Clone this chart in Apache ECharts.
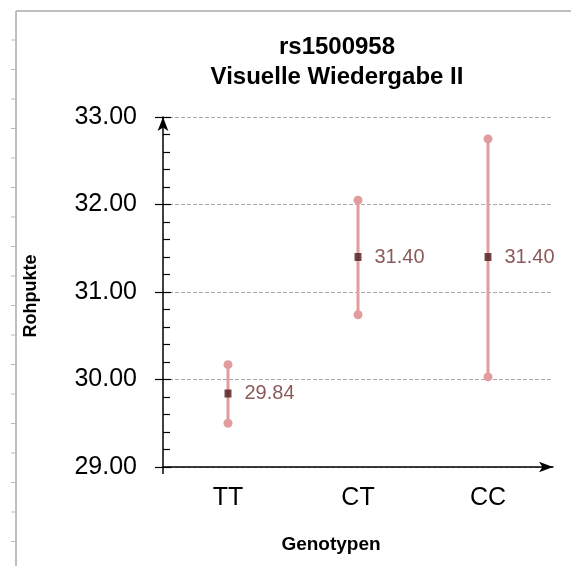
<!DOCTYPE html>
<html><head><meta charset="utf-8">
<script src="https://cdn.jsdelivr.net/npm/echarts@6/dist/echarts.min.js"></script>
<style>html,body{margin:0;padding:0;background:#fff}#c{width:571px;height:566px}</style>
</head><body><div id="c"></div>
<script>
var categories = ['TT', 'CT', 'CC'];
var means = [29.84, 31.40, 31.40];
var lows = [29.50, 30.74, 30.03];
var highs = [30.17, 32.05, 32.75];
var yTicks = [29, 30, 31, 32, 33];
var titleLines = ['rs1500958', 'Visuelle Wiedergabe II'];
var xName = 'Genotypen';
var yName = 'Rohpukte';

var chart = echarts.init(document.getElementById('c'), null, {renderer: 'canvas'});
var barColor = '#e19c9e';
var font = 'Arial, "Liberation Sans", sans-serif';

var rulerTicks = [];
for (var y = 40; y < 566; y += 29.5) {
  rulerTicks.push({type: 'line', silent: true, shape: {x1: 11, y1: y, x2: 16, y2: y}, style: {stroke: '#bbbbbb', lineWidth: 1}});
}

var option = {
  animation: false,
  title: {
    text: titleLines.join('\n'), left: 332, top: 27, textAlign: 'center',
    textStyle: {fontFamily: font, fontWeight: 'bold', fontSize: 24, color: '#000', lineHeight: 30}
  },
  grid: {left: 163, right: 18, top: 117, bottom: 99},
  xAxis: {
    type: 'category', data: categories, boundaryGap: true,
    axisLine: {lineStyle: {color: '#000', width: 1.5}, symbol: ['none', 'arrow'], symbolSize: [8, 14], symbolOffset: [0, 0]},
    axisTick: {show: false},
    axisLabel: {fontFamily: font, fontSize: 25, color: '#000', margin: 19}
  },
  yAxis: [{
    type: 'value', min: 29, max: 33, interval: 1,
    axisLine: {show: true, lineStyle: {color: '#000', width: 1.5}, symbol: ['none', 'arrow'], symbolSize: [8, 14]},
    axisTick: {show: true, length: 8, lineStyle: {color: '#000', width: 1.2}},
    minorTick: {show: false},
    axisLabel: {fontFamily: font, fontSize: 25, color: '#000', margin: 26, formatter: function (v) { return v.toFixed(2); }},
    splitLine: {show: true, lineStyle: {color: '#aaaaaa', type: [4, 2], width: 1}}
  }, {
    type: 'value', min: 29, max: 33, interval: 1, position: 'left', offset: 0,
    axisLine: {show: false},
    axisTick: {show: true, inside: true, length: 8, lineStyle: {color: '#000', width: 1.2}},
    minorTick: {show: true, splitNumber: 5, length: 7, lineStyle: {color: '#000', width: 1.2}},
    axisLabel: {show: false},
    splitLine: {show: false}
  }],
  graphic: [
    {type: 'line', silent: true, shape: {x1: 16, y1: 11, x2: 571, y2: 11}, style: {stroke: '#aaaaaa', lineWidth: 1.5}},
    {type: 'line', silent: true, shape: {x1: 16, y1: 11, x2: 16, y2: 566}, style: {stroke: '#aaaaaa', lineWidth: 1.5}},
    {type: 'line', silent: true, shape: {x1: 163, y1: 467, x2: 163, y2: 474}, style: {stroke: '#000', lineWidth: 1.5}},
    {type: 'text', silent: true, x: 331, y: 545, style: {text: xName, font: 'bold 19px ' + font, fill: '#000', align: 'center', verticalAlign: 'middle'}},
    {type: 'text', silent: true, x: 31, y: 296, rotation: Math.PI / 2, style: {text: yName, font: 'bold 18px ' + font, fill: '#000', align: 'center', verticalAlign: 'middle'}}
  ].concat(rulerTicks),
  series: [{
    type: 'custom',
    data: categories.map(function (c, i) { return [i, lows[i], highs[i]]; }),
    renderItem: function (params, api) {
      var lo = api.coord([api.value(0), api.value(1)]);
      var hi = api.coord([api.value(0), api.value(2)]);
      return {type: 'group', children: [
        {type: 'line', shape: {x1: lo[0], y1: lo[1], x2: hi[0], y2: hi[1]}, style: {stroke: barColor, lineWidth: 3}},
        {type: 'circle', shape: {cx: lo[0], cy: lo[1], r: 4.5}, style: {fill: barColor}},
        {type: 'circle', shape: {cx: hi[0], cy: hi[1], r: 4.5}, style: {fill: barColor}}
      ]};
    },
    z: 3
  }, {
    type: 'scatter',
    data: categories.map(function (c, i) { return [i, means[i]]; }),
    symbol: 'rect', symbolSize: [7, 8],
    itemStyle: {color: '#4f1a1a'},
    label: {
      show: true, position: 'right', distance: 13,
      formatter: function (p) { return p.value[1].toFixed(2); },
      fontFamily: font, fontSize: 20, color: '#6e3030'
    },
    z: 4
  }]
};
chart.setOption(option);
</script>
</body></html>
